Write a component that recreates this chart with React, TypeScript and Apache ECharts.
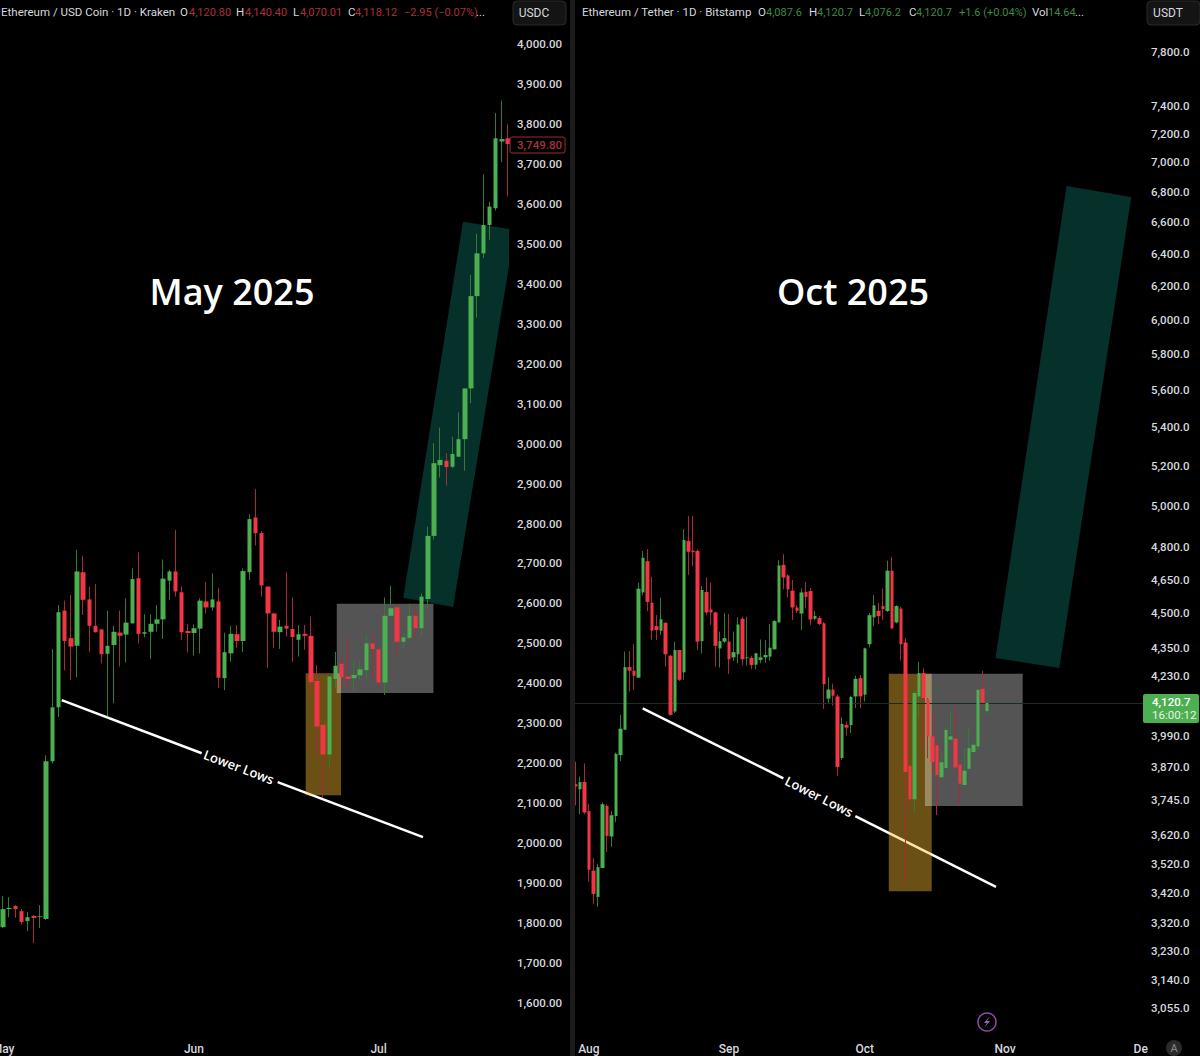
import React, { useEffect, useRef } from 'react';
import * as echarts from 'echarts';

type Candle = [number, number, number, number];
type Pt = [number, number];

// [open, close, low, high]
const leftCandles: Candle[] = [
  [1790, 1835, 1788, 1868], [1835, 1838, 1815, 1865], [1843, 1835, 1813, 1845], [1830, 1803, 1796, 1835],
  [1805, 1815, 1780, 1828], [1818, 1813, 1750, 1820], [1815, 1817, 1788, 1845], [1810, 2205, 1808, 2220],
  [2205, 2340, 2200, 2486], [2340, 2578, 2316, 2596], [2582, 2506, 2432, 2607], [2513, 2492, 2408, 2621],
  [2494, 2680, 2415, 2734], [2678, 2609, 2571, 2719], [2610, 2544, 2479, 2642], [2544, 2528, 2527, 2649],
  [2535, 2473, 2450, 2535], [2474, 2494, 2318, 2582], [2496, 2529, 2350, 2544], [2527, 2519, 2442, 2582],
  [2522, 2552, 2452, 2613], [2550, 2661, 2550, 2688], [2663, 2524, 2500, 2728], [2524, 2528, 2515, 2573],
  [2529, 2549, 2461, 2573], [2549, 2560, 2529, 2596], [2560, 2662, 2511, 2710], [2657, 2680, 2609, 2684],
  [2680, 2630, 2617, 2784], [2628, 2528, 2509, 2642], [2531, 2526, 2477, 2548], [2526, 2538, 2469, 2548],
  [2537, 2607, 2475, 2613], [2605, 2590, 2575, 2653], [2590, 2610, 2582, 2675], [2605, 2414, 2389, 2638],
  [2413, 2478, 2383, 2527], [2475, 2524, 2454, 2544], [2523, 2506, 2489, 2546], [2506, 2681, 2478, 2688],
  [2678, 2811, 2659, 2823], [2815, 2776, 2745, 2886], [2776, 2645, 2617, 2781], [2642, 2575, 2439, 2642],
  [2575, 2529, 2489, 2575], [2528, 2542, 2486, 2559], [2544, 2537, 2517, 2677], [2536, 2516, 2454, 2615],
  [2509, 2523, 2467, 2546], [2524, 2519, 2484, 2546], [2519, 2403, 2375, 2567], [2406, 2292, 2212, 2446],
  [2296, 2222, 2113, 2296], [2222, 2417, 2190, 2417], [2411, 2444, 2388, 2479], [2449, 2415, 2388, 2467],
  [2417, 2411, 2388, 2515], [2413, 2421, 2382, 2458], [2420, 2435, 2408, 2454], [2433, 2500, 2411, 2521],
  [2500, 2486, 2408, 2524], [2485, 2402, 2385, 2485], [2402, 2569, 2371, 2615], [2569, 2588, 2569, 2644],
  [2590, 2504, 2467, 2596], [2504, 2515, 2489, 2525], [2514, 2569, 2509, 2599], [2569, 2538, 2513, 2588],
  [2538, 2617, 2519, 2625], [2611, 2769, 2588, 2792], [2769, 2951, 2760, 3001], [2946, 2959, 2915, 3040],
  [2957, 2941, 2895, 2976], [2942, 2974, 2938, 3017], [2967, 3011, 2967, 3078], [3011, 3138, 2932, 3138],
  [3138, 3369, 3101, 3422], [3369, 3476, 3315, 3525], [3476, 3547, 3464, 3674], [3547, 3593, 3510, 3605],
  [3589, 3764, 3583, 3827], [3756, 3762, 3704, 3858], [3764, 3749.8, 3618, 3799],
];

const rightCandles: Candle[] = [
  [3805, 3797, 3727, 3890], [3786, 3813, 3695, 3834], [3813, 3701, 3695, 3883], [3706, 3499, 3458, 3731],
  [3496, 3417, 3384, 3539], [3407, 3508, 3374, 3519], [3505, 3731, 3505, 3738], [3725, 3617, 3560, 3731],
  [3615, 3691, 3578, 3707], [3688, 3920, 3666, 3925], [3915, 4018, 3892, 4073], [4014, 4268, 4014, 4333],
  [4268, 4253, 4167, 4335], [4253, 4232, 4174, 4365], [4224, 4609, 4224, 4636], [4592, 4751, 4580, 4783],
  [4735, 4550, 4509, 4790], [4546, 4423, 4382, 4663], [4443, 4426, 4382, 4491], [4423, 4473, 4404, 4568],
  [4457, 4322, 4270, 4461], [4316, 4073, 4070, 4320], [4086, 4340, 4080, 4376], [4340, 4215, 4210, 4340],
  [4246, 4834, 4215, 4887], [4830, 4779, 4672, 4950], [4784, 4777, 4713, 4950], [4783, 4376, 4340, 4790],
  [4378, 4603, 4326, 4621], [4594, 4503, 4491, 4659], [4516, 4503, 4448, 4636], [4503, 4358, 4270, 4506],
  [4347, 4378, 4266, 4419], [4376, 4391, 4370, 4500], [4376, 4301, 4240, 4496], [4309, 4331, 4294, 4419],
  [4322, 4450, 4284, 4481], [4475, 4301, 4277, 4484], [4305, 4309, 4274, 4484], [4307, 4277, 4259, 4316],
  [4278, 4326, 4259, 4329], [4298, 4309, 4284, 4385], [4309, 4319, 4286, 4382], [4312, 4350, 4294, 4452],
  [4343, 4465, 4343, 4470], [4459, 4715, 4459, 4740], [4718, 4660, 4606, 4768], [4669, 4606, 4571, 4675],
  [4600, 4525, 4469, 4648], [4525, 4510, 4500, 4535], [4498, 4592, 4426, 4610], [4595, 4572, 4520, 4640],
  [4598, 4472, 4448, 4612], [4475, 4487, 4469, 4509], [4478, 4452, 4448, 4487], [4455, 4197, 4096, 4460],
  [4138, 4175, 4121, 4225], [4175, 4150, 4110, 4199], [4147, 3870, 3835, 4155], [3904, 4037, 3896, 4063],
  [4033, 4022, 3991, 4046], [4032, 4145, 4001, 4150], [4147, 4219, 4100, 4232], [4222, 4147, 4100, 4235],
  [4154, 4347, 4126, 4350], [4365, 4491, 4351, 4500], [4481, 4534, 4443, 4580], [4510, 4487, 4452, 4546],
  [4531, 4518, 4469, 4610], [4509, 4691, 4505, 4737], [4691, 4433, 4430, 4755], [4459, 4531, 4455, 4535],
  [4520, 4365, 4295, 4528], [4372, 3851, 3451, 4391], [3875, 3749, 3731, 3880], [3749, 4161, 3701, 4170],
  [4147, 4243, 4067, 4290], [4243, 4140, 3949, 4263], [4136, 3988, 3904, 4140], [3988, 3888, 3848, 4087],
  [3953, 3839, 3692, 3958], [3831, 3888, 3828, 3927], [3866, 4013, 3860, 4027], [3975, 3988, 3968, 4084],
  [3979, 3868, 3860, 4110], [3879, 3807, 3724, 3885], [3802, 3856, 3800, 3939], [3863, 3942, 3860, 4024],
  [3927, 3955, 3923, 3961], [3949, 4174, 3936, 4178], [4178, 4121, 4118, 4252], [4087.6, 4120.7, 4076.2, 4120.7],
];

const leftTicks = [4000, 3900, 3800, 3700, 3600, 3500, 3400, 3300, 3200, 3100, 3000, 2900, 2800, 2700, 2600, 2500,
  2400, 2300, 2200, 2100, 2000, 1900, 1800, 1700, 1600];
const rightTicks = [7800, 7400, 7200, 7000, 6800, 6600, 6400, 6200, 6000, 5800, 5600, 5400, 5200, 5000, 4800, 4650,
  4500, 4350, 4230, 3990, 3870, 3745, 3620, 3520, 3420, 3320, 3230, 3140, 3055];

const leftMonths: Record<string, string> = { '2025-05-01': 'May', '2025-06-01': 'Jun', '2025-07-01': 'Jul' };
const rightMonths: Record<string, string> = {
  '2025-08-01': 'Aug', '2025-09-01': 'Sep', '2025-10-01': 'Oct', '2025-11-01': 'Nov', '2025-12-01': 'De',
};

const dayKey = (month: number, day: number) => new Date(Date.UTC(2025, month, day)).toISOString().slice(0, 10);
const leftDates = leftCandles.map((_, i) => dayKey(4, 1 + i));
const rightDates = Array.from({ length: 126 }, (_, i) => dayKey(6, 29 + i));

// drawings, as [bar index, price]
const leftTeal: Pt[] = [[74.7, 3555], [82.2, 3537], [82.2, 3447], [73.1, 2591], [65, 2614]];
const leftGray: Pt[] = [[54.2, 2599], [69.9, 2599], [69.9, 2376], [54.2, 2376]];
const leftOrange: Pt[] = [[49.15, 2425], [54.9, 2425], [54.9, 2120], [49.15, 2120]];
const leftTrendA: Pt[] = [[9.52, 2358], [32.26, 2225]];
const leftTrendB: Pt[] = [[44.6, 2153], [68.2, 2015]];
const leftTrendLabel: Pt = [38.3, 2191];

const rightTeal: Pt[] = [[108.6, 6840], [122.9, 6767], [107, 4264], [92.9, 4306]];
const rightGray: Pt[] = [[77.3, 4240], [98.9, 4240], [98.9, 3725], [77.3, 3725]];
const rightOrange: Pt[] = [[69.3, 4240], [78.8, 4240], [78.8, 3426], [69.3, 3426]];
const rightTrendA: Pt[] = [[14.9, 4099], [46, 3827]];
const rightTrendB: Pt[] = [[61.9, 3688], [93, 3441]];
const rightTrendLabel: Pt = [53.9, 3760];

const UP = '#4caf50';
const DOWN = '#f23645';
const UP_WICK = '#2f7d36';
const DOWN_WICK = '#a52c38';
const TEXT = '#d6d8de';
const FONT = 'Roboto, sans-serif';
const TITLE_FONT = '"Open Sans", sans-serif';

const zone = (points: Pt[], fill: string, axis: number, z: number) => ({
  type: 'custom',
  xAxisIndex: axis + 2,
  yAxisIndex: axis,
  z,
  silent: true,
  clip: false,
  data: [points[0]],
  renderItem: (_: any, api: any) => ({
    type: 'polygon',
    shape: { points: points.map((p) => api.coord(p)) },
    style: { fill },
  }),
});

const trend = (points: Pt[], axis: number) => ({
  type: 'line',
  xAxisIndex: axis + 2,
  yAxisIndex: axis,
  z: 1,
  silent: true,
  showSymbol: false,
  data: points,
  lineStyle: { color: '#ffffff', width: 2.5 },
});

const trendLabel = (point: Pt, rotation: number, axis: number) => ({
  type: 'custom',
  xAxisIndex: axis + 2,
  yAxisIndex: axis,
  z: 6,
  silent: true,
  clip: false,
  data: [point],
  renderItem: (_: any, api: any) => {
    const [x, y] = api.coord(point);
    return {
      type: 'text',
      x,
      y,
      rotation,
      style: {
        text: 'Lower Lows',
        fill: '#ffffff',
        font: `600 13px ${TITLE_FONT}`,
        align: 'center',
        verticalAlign: 'middle',
      },
    };
  },
});

// the wicks are dimmer than the bodies, so each chart gets two candlestick layers
const candles = (data: Candle[], barWidth: number, axis: number, extra: object = {}) => [
  {
    type: 'candlestick',
    xAxisIndex: axis,
    yAxisIndex: axis,
    z: 4,
    silent: true,
    barWidth: 1,
    data,
    itemStyle: { color: UP_WICK, color0: DOWN_WICK, borderColor: UP_WICK, borderColor0: DOWN_WICK, borderWidth: 1 },
    ...extra,
  },
  {
    type: 'candlestick',
    xAxisIndex: axis,
    yAxisIndex: axis,
    z: 5,
    silent: true,
    barWidth,
    data: data.map(([o, c]) => [o, c, Math.min(o, c), Math.max(o, c)]),
    itemStyle: { color: UP, color0: DOWN, borderColor: UP, borderColor0: DOWN, borderWidth: 0 },
  },
];

const monthAxis = (dates: string[], months: Record<string, string>, gridIndex: number) => ({
  type: 'category',
  gridIndex,
  data: dates,
  axisLine: { show: false },
  axisTick: { show: false },
  splitLine: { show: false },
  axisLabel: {
    interval: (_: number, value: string) => value in months,
    formatter: (value: string) => months[value] ?? '',
    color: TEXT,
    fontFamily: FONT,
    fontSize: 12,
    fontWeight: 500,
    margin: 0,
  },
});

const barAxis = (count: number, gridIndex: number) => ({
  type: 'value',
  gridIndex,
  show: false,
  min: -0.5,
  max: count - 0.5,
  splitLine: { show: false },
});

const priceAxis = (ticks: number[], digits: number, margin: number) => ({
  position: 'right',
  splitLine: { show: false },
  axisLine: { show: false },
  axisTick: { show: false },
  axisLabel: {
    customValues: ticks,
    margin,
    color: TEXT,
    fontFamily: FONT,
    fontSize: 11.5,
    fontWeight: 500,
    formatter: (v: number) =>
      v.toLocaleString('en-US', { minimumFractionDigits: digits, maximumFractionDigits: digits }),
  },
});

const label = (
  text: string,
  x: number,
  y: number,
  fill: string,
  size = 11.5,
  weight = 400,
  align = 'left',
  family = FONT,
) => ({
  type: 'text',
  x,
  y,
  z: 20,
  silent: true,
  style: { text, fill, font: `${weight} ${size}px ${family}`, align, verticalAlign: 'middle' },
});

const RED_TXT = '#a9323c';
const GREEN_TXT = '#3c8a44';

const App: React.FC = () => {
  const chartRef = useRef<HTMLDivElement>(null);

  useEffect(() => {
    document.body.style.margin = '0';
    if (!chartRef.current) return;
    const chart = echarts.init(chartRef.current, undefined, { renderer: 'svg' });

    chart.setOption({
      animation: false,
      backgroundColor: '#000000',
      grid: [
        { left: 0, top: 4, width: 511, height: 1039, outerBoundsMode: 'none' },
        { left: 573, top: 4, width: 570, height: 1039, outerBoundsMode: 'none' },
      ],
      xAxis: [
        monthAxis(leftDates, leftMonths, 0),
        monthAxis(rightDates, rightMonths, 1),
        barAxis(leftDates.length, 0),
        barAxis(rightDates.length, 1),
      ],
      yAxis: [
        { type: 'value', gridIndex: 0, min: 1500, max: 4100, ...priceAxis(leftTicks, 2, 6) },
        { type: 'log', gridIndex: 1, min: 2952.4, max: 8176, ...priceAxis(rightTicks, 1, 8) },
      ],
      series: [
        trend(leftTrendA, 0),
        trend(leftTrendB, 0),
        zone(leftTeal, '#06302a', 0, 2),
        zone(leftOrange, 'rgba(255, 190, 50, 0.42)', 0, 2),
        zone(leftGray, 'rgba(255, 255, 255, 0.33)', 0, 3),
        ...candles(leftCandles, 5, 0),
        trendLabel(leftTrendLabel, -0.363, 0),

        trend(rightTrendA, 1),
        trend(rightTrendB, 1),
        zone(rightTeal, '#06302a', 1, 2),
        zone(rightOrange, 'rgba(255, 190, 50, 0.42)', 1, 2),
        zone(rightGray, 'rgba(255, 255, 255, 0.33)', 1, 3),
        ...candles(rightCandles, 4, 1, {
          markLine: {
            silent: true,
            symbol: ['none', 'none'],
            label: { show: false },
            lineStyle: { color: '#17301b', width: 1, type: 'solid' },
            data: [{ yAxis: 4120.7 }],
          },
        }),
        trendLabel(rightTrendLabel, -0.468, 1),
      ],
      graphic: [
        { type: 'rect', z: 19, silent: true, shape: { x: 570, y: 0, width: 5, height: 1056 }, style: { fill: '#1c1c1c' } },

        label('May 2025', 232, 291, '#ffffff', 36, 600, 'center', TITLE_FONT),
        label('Oct 2025', 853, 291, '#ffffff', 36, 600, 'center', TITLE_FONT),

        label('Ethereum / USD Coin · 1D · Kraken', 1, 12, TEXT),
        label('O', 180, 12, TEXT), label('4,120.80', 189, 12, RED_TXT, 11),
        label('H', 236, 12, TEXT), label('4,140.40', 245, 12, RED_TXT, 11),
        label('L', 293, 12, TEXT), label('4,070.01', 300, 12, RED_TXT, 11),
        label('C', 348, 12, TEXT), label('4,118.12', 355, 12, RED_TXT, 11),
        label('−2.95 (−0.07%)', 404, 12, RED_TXT, 11), label('...', 476, 12, TEXT),

        label('Ethereum / Tether · 1D · Bitstamp', 582, 12, TEXT),
        label('O', 758, 12, TEXT), label('4,087.6', 766, 12, GREEN_TXT, 11),
        label('H', 809, 12, TEXT), label('4,120.7', 817, 12, GREEN_TXT, 11),
        label('L', 859, 12, TEXT), label('4,076.2', 865, 12, GREEN_TXT, 11),
        label('C', 909, 12, TEXT), label('4,120.7', 916, 12, GREEN_TXT, 11),
        label('+1.6 (+0.04%)', 959, 12, GREEN_TXT, 11),
        label('Vol', 1032, 12, TEXT), label('14.64', 1048, 12, GREEN_TXT, 11), label('...', 1075, 12, TEXT),

        { type: 'rect', z: 19, silent: true, shape: { x: 513, y: 1, width: 53, height: 24, r: 4 }, style: { fill: '#141414', stroke: '#2a2a2a' } },
        label('USDC', 534, 13, TEXT, 12, 400, 'center'),
        { type: 'rect', z: 19, silent: true, shape: { x: 1147, y: 1, width: 53, height: 24, r: 4 }, style: { fill: '#141414', stroke: '#2a2a2a' } },
        label('USDT', 1168, 13, TEXT, 12, 400, 'center'),

        { type: 'rect', z: 19, silent: true, shape: { x: 510, y: 137, width: 55, height: 16, r: 2 }, style: { fill: '#000000', stroke: '#9b2c35' } },
        label('3,749.80', 517, 145, RED_TXT, 11.5, 500),
        { type: 'rect', z: 19, silent: true, shape: { x: 1143, y: 694, width: 56, height: 29, r: 2 }, style: { fill: UP } },
        label('4,120.7', 1152, 701.5, '#ffffff', 11.5, 500),
        label('16:00:12', 1152, 715, '#e6f4e6', 11.5, 400),

        { type: 'circle', z: 19, silent: true, shape: { cx: 987, cy: 1022, r: 9 }, style: { fill: 'transparent', stroke: '#8f4aa8', lineWidth: 1.5 } },
        {
          type: 'polygon',
          z: 19,
          silent: true,
          shape: { points: [[990, 1016], [984, 1023], [987, 1023], [984, 1028], [990, 1021], [987, 1021]] },
          style: { fill: '#a65fc0' },
        },
        { type: 'circle', z: 19, silent: true, shape: { cx: 1174, cy: 1048, r: 8 }, style: { fill: '#2a2a2a' } },
        label('A', 1174, 1048, '#8a8a8a', 11, 400, 'center'),
      ],
    });

    return () => {
      chart.dispose();
    };
  }, []);

  return <div ref={chartRef} style={{ position: 'fixed', left: 0, top: 0, width: 1200, height: 1056 }} />;
};

export default App;
